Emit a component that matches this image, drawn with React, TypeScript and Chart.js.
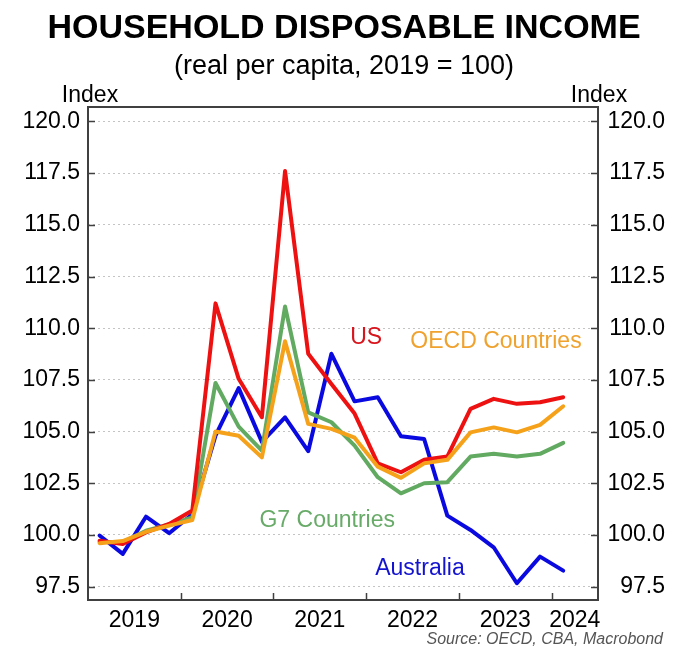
import { useEffect, useRef } from "react";
import { Chart, registerables } from "chart.js";

Chart.register(...registerables);

// quarterly data, 2019 Q1 .. 2024 Q1
const quarters = [
    "2019Q1", "2019Q2", "2019Q3", "2019Q4",
    "2020Q1", "2020Q2", "2020Q3", "2020Q4",
    "2021Q1", "2021Q2", "2021Q3", "2021Q4",
    "2022Q1", "2022Q2", "2022Q3", "2022Q4",
    "2023Q1", "2023Q2", "2023Q3", "2023Q4",
    "2024Q1",
];

const oecd = [99.6, 99.7, 100.15, 100.45, 100.72, 105.0, 104.8, 103.75, 109.37, 105.37, 105.13, 104.7, 103.3, 102.76, 103.46, 103.63, 104.96, 105.2, 104.96, 105.32, 106.22];
const us = [99.72, 99.56, 100.12, 100.53, 101.18, 111.2, 107.55, 105.69, 117.6, 108.76, 107.3, 105.87, 103.46, 103.03, 103.63, 103.79, 106.1, 106.58, 106.34, 106.42, 106.66];
const g7 = [99.65, 99.65, 100.2, 100.5, 100.85, 107.35, 105.24, 104.08, 111.05, 105.93, 105.45, 104.32, 102.79, 102.01, 102.5, 102.55, 103.79, 103.92, 103.79, 103.92, 104.45];
const australia = [99.97, 99.08, 100.88, 100.08, 101.0, 104.8, 107.1, 104.5, 105.69, 104.05, 108.76, 106.46, 106.66, 104.77, 104.64, 100.93, 100.24, 99.4, 97.66, 98.95, 98.27];

const yearLabels = ["2019", "2020", "2021", "2022", "2023", "2024"];
const yearLabelPos = [0.5, 1.5, 2.5, 3.5, 4.5, 5.25];
const yearBounds = [1, 2, 3, 4, 5];
const yTicks = [97.5, 100, 102.5, 105, 107.5, 110, 112.5, 115, 117.5, 120];

const FONT = "'Liberation Sans', Arial, Helvetica, sans-serif";

// x position (years since 2019) of the middle of each quarter
const qx = (q: string) => Number(q.slice(0, 4)) - 2019 + (Number(q.slice(5)) - 0.5) / 4;
const toPoints = (vals: number[]) => vals.map((v, i) => ({ x: qx(quarters[i]), y: v }));

// series labels placed in data coordinates
const seriesLabels = [
    { text: "US", x: 3.0, y: 109.55, color: "#d8141c" },
    { text: "OECD Countries", x: 4.4, y: 109.35, color: "#f0a22e" },
    { text: "G7 Countries", x: 2.58, y: 100.69, color: "#68aa68" },
    { text: "Australia", x: 3.58, y: 98.37, color: "#1414d0" },
];

const decorPlugin = {
    id: "decor",
    afterDraw(chart: any) {
        const { ctx, chartArea: a, scales } = chart;
        const ys = scales.y;
        const xs = scales.x;
        ctx.save();

        // frame
        ctx.strokeStyle = "#404040";
        ctx.lineWidth = 2;
        ctx.strokeRect(a.left, a.top, a.right - a.left, a.bottom - a.top);

        // inner ticks
        ctx.lineWidth = 1.5;
        ctx.beginPath();
        yTicks.forEach((t) => {
            const py = Math.round(ys.getPixelForValue(t)) + 0.5;
            ctx.moveTo(a.left, py);
            ctx.lineTo(a.left + 7, py);
            ctx.moveTo(a.right, py);
            ctx.lineTo(a.right - 7, py);
        });
        yearBounds.forEach((b) => {
            const px = Math.round(xs.getPixelForValue(b)) + 0.5;
            ctx.moveTo(px, a.bottom);
            ctx.lineTo(px, a.bottom - 7);
        });
        ctx.stroke();

        // series labels
        ctx.textAlign = "center";
        ctx.textBaseline = "middle";
        ctx.font = `23px ${FONT}`;
        seriesLabels.forEach((l) => {
            ctx.fillStyle = l.color;
            ctx.fillText(l.text, xs.getPixelForValue(l.x), ys.getPixelForValue(l.y));
        });

        // titles
        const cx = (a.left + a.right) / 2 + 1;
        ctx.fillStyle = "#000";
        ctx.textBaseline = "alphabetic";
        ctx.font = `bold 34px ${FONT}`;
        ctx.fillText("HOUSEHOLD DISPOSABLE INCOME", cx, 38);
        ctx.font = `27px ${FONT}`;
        ctx.fillText("(real per capita, 2019 = 100)", cx, 74);
        ctx.font = `23px ${FONT}`;
        ctx.fillText("Index", a.left + 2, 102);
        ctx.fillText("Index", a.right + 1, 102);

        // source
        ctx.textAlign = "right";
        ctx.fillStyle = "#555";
        ctx.font = `italic 16px ${FONT}`;
        ctx.fillText("Source: OECD, CBA, Macrobond", 663, 644);
        ctx.restore();
    },
};

export default function App() {
    const chartRef = useRef<HTMLCanvasElement | null>(null);

    useEffect(() => {
        document.body.style.margin = "0";
        if (!chartRef.current) return;
        const ctx = chartRef.current.getContext("2d");
        if (!ctx) return;

        const line = (label: string, data: number[], color: string) => ({
            label,
            data: toPoints(data),
            borderColor: color,
            backgroundColor: color,
            borderWidth: 4,
            pointRadius: 0,
            tension: 0,
            borderJoinStyle: "round" as const,
            borderCapStyle: "round" as const,
        });

        const yAxisTicks = (scale: any) => {
            scale.ticks = yTicks.map((v) => ({ value: v }));
        };

        const myChart = new Chart(ctx, {
            type: "line",
            data: {
                datasets: [
                    line("OECD Countries", oecd, "#f5a21a"),
                    line("US", us, "#ee1111"),
                    line("G7 Countries", g7, "#62aa62"),
                    line("Australia", australia, "#0a0ae0"),
                ],
            },
            options: {
                responsive: false,
                animation: false,
                layout: { padding: { top: 107, right: 15, bottom: 0, left: 0 } },
                plugins: {
                    legend: { display: false },
                    title: { display: false },
                    tooltip: { enabled: false },
                },
                scales: {
                    x: {
                        type: "linear",
                        min: 0,
                        max: 5.5,
                        afterBuildTicks: (scale: any) => {
                            scale.ticks = yearLabelPos.map((v) => ({ value: v }));
                        },
                        afterFit: (scale: any) => {
                            scale.height = 56;
                        },
                        ticks: {
                            callback: (_v: any, i: number) => yearLabels[i],
                            font: { family: FONT, size: 23 },
                            color: "#000",
                            padding: 7,
                            maxRotation: 0,
                            autoSkip: false,
                        },
                        grid: { display: false, drawTicks: false },
                        border: { display: false },
                    },
                    y: {
                        type: "linear",
                        position: "left",
                        min: 96.85,
                        max: 120.7,
                        afterBuildTicks: yAxisTicks,
                        afterFit: (scale: any) => {
                            scale.width = 88;
                        },
                        ticks: {
                            callback: (v: any) => Number(v).toFixed(1),
                            font: { family: FONT, size: 23 },
                            color: "#000",
                            padding: 8,
                        },
                        grid: { color: "#c4c4c4", lineWidth: 1, drawTicks: false },
                        border: { display: false, dash: [2, 3] },
                    },
                    y2: {
                        type: "linear",
                        position: "right",
                        min: 96.85,
                        max: 120.7,
                        afterBuildTicks: yAxisTicks,
                        afterFit: (scale: any) => {
                            scale.width = 67;
                        },
                        ticks: {
                            callback: (v: any) => Number(v).toFixed(1),
                            font: { family: FONT, size: 23 },
                            color: "#000",
                            crossAlign: "far",
                        },
                        grid: { display: false, drawTicks: false },
                        border: { display: false },
                    },
                },
            },
            plugins: [decorPlugin],
        });

        return () => {
            myChart.destroy();
        };
    }, []);

    return (
        <div style={{ width: 680, height: 656, background: "#fff" }}>
            <canvas ref={chartRef} width="680" height="656" style={{ display: "block" }}></canvas>
        </div>
    );
}
